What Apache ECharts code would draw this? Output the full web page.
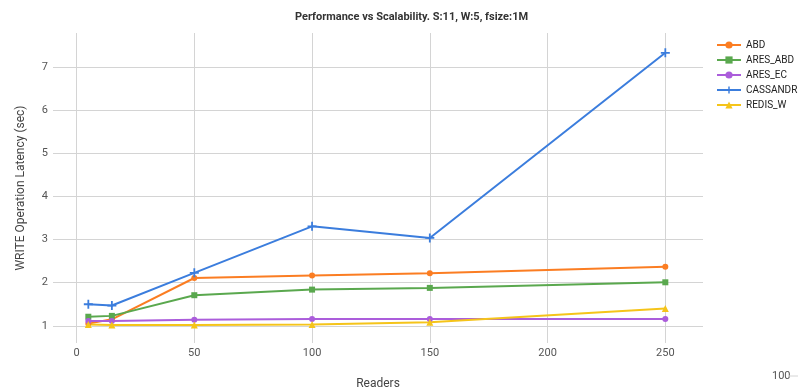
<!DOCTYPE html>
<html>
<head>
<meta charset="utf-8">
<script src="https://cdn.jsdelivr.net/npm/echarts@6/dist/echarts.min.js"></script>
<style>
    html, body { margin: 0; padding: 0; background: #fff; }
    #main { width: 798px; height: 389px; }
</style>
</head>
<body>
<div id="main"></div>
<script>
// 数据
const readers = [5, 15, 50, 100, 150, 250]
const abd = [1.05, 1.15, 2.11, 2.17, 2.22, 2.37]
const aresAbd = [1.21, 1.23, 1.71, 1.84, 1.88, 2.01]
const aresEc = [1.11, 1.11, 1.14, 1.16, 1.16, 1.16]
const cassandra = [1.50, 1.47, 2.23, 3.31, 3.04, 7.34]
const redisW = [1.03, 1.02, 1.02, 1.03, 1.08, 1.40]
const seriesNames = ['ABD', 'ARES_ABD', 'ARES_EC', 'CASSANDR', 'REDIS_W']
const colors = ['#fb7d22', '#5aa84e', '#ab5ddb', '#3b7ddd', '#f5c41a']

let myChart = echarts.init(document.getElementById('main'))

function pairs(ys) {
    return readers.map(function (x, i) { return [x, ys[i]] })
}

const plus = 'path://M4,0H6V4H10V6H6V10H4V6H0V4H4Z'
const symbols = ['circle', 'rect', 'circle', plus, 'triangle']
const sizes = [6, 6, 6, 9, 7]
const values = [abd, aresAbd, aresEc, cassandra, redisW]

let series = seriesNames.map(function (name, i) {
    return {
        name: name,
        type: 'line',
        data: pairs(values[i]),
        symbol: symbols[i],
        symbolSize: sizes[i],
        showAllSymbol: true,
        lineStyle: { width: 2, color: colors[i] },
        itemStyle: { color: colors[i] }
    }
})

const grey = '#d4d4d4'
let option = {
    animation: false,
    textStyle: { fontFamily: 'Roboto' },
    title: {
        text: 'Performance vs Scalability. S:11, W:5, fsize:1M',
        left: 290,
        top: 7,
        textStyle: { fontSize: 11, fontWeight: 'bold', color: '#333', fontFamily: 'Roboto' }
    },
    legend: {
        orient: 'vertical',
        left: 716,
        top: 40,
        padding: 0,
        itemWidth: 24,
        itemHeight: 9,
        itemGap: 5,
        textStyle: { fontSize: 10, color: '#222' },
        data: seriesNames
    },
    grid: { left: 53, right: 95, top: 33, bottom: 46, outerBoundsMode: 'none' },
    xAxis: {
        type: 'value',
        min: -10,
        max: 266,
        interval: 10,
        name: 'Readers',
        nameLocation: 'middle',
        nameGap: 35,
        nameTextStyle: { fontSize: 12, color: '#444' },
        axisLine: { show: false },
        axisTick: { show: false },
        axisLabel: {
            fontSize: 11,
            color: '#555',
            margin: 5,
            formatter: function (v) { return (v >= 0 && v % 50 === 0) ? String(v) : '' }
        },
        splitLine: {
            show: true,
            lineStyle: { color: ['transparent', grey, 'transparent', 'transparent', 'transparent'], width: 1 }
        }
    },
    yAxis: {
        type: 'value',
        min: 0.6,
        max: 7.8,
        interval: 0.2,
        axisLine: { show: false },
        axisTick: { show: false },
        axisLabel: {
            fontSize: 11,
            color: '#555',
            margin: 5,
            formatter: function (v) {
                return Math.abs(v - Math.round(v)) < 1e-6 ? String(Math.round(v)) : ''
            }
        },
        splitLine: {
            show: true,
            lineStyle: { color: ['transparent', 'transparent', grey, 'transparent', 'transparent'], width: 1 }
        }
    },
    graphic: [
        {
            type: 'text',
            x: 21,
            y: 188,
            rotation: Math.PI / 2,
            style: {
                text: 'WRITE Operation Latency (sec)',
                fontSize: 12,
                fontFamily: 'Roboto',
                fill: '#444',
                align: 'center',
                verticalAlign: 'middle'
            }
        },
        {
            type: 'text',
            x: 772,
            y: 376,
            style: { text: '100', fontSize: 11, fontFamily: 'Roboto', fill: '#555', verticalAlign: 'middle' }
        },
        {
            type: 'line',
            shape: { x1: 789, y1: 376, x2: 798, y2: 376 },
            style: { stroke: grey, lineWidth: 1 }
        }
    ],
    series: series
}
myChart.setOption(option)
</script>
</body>
</html>
